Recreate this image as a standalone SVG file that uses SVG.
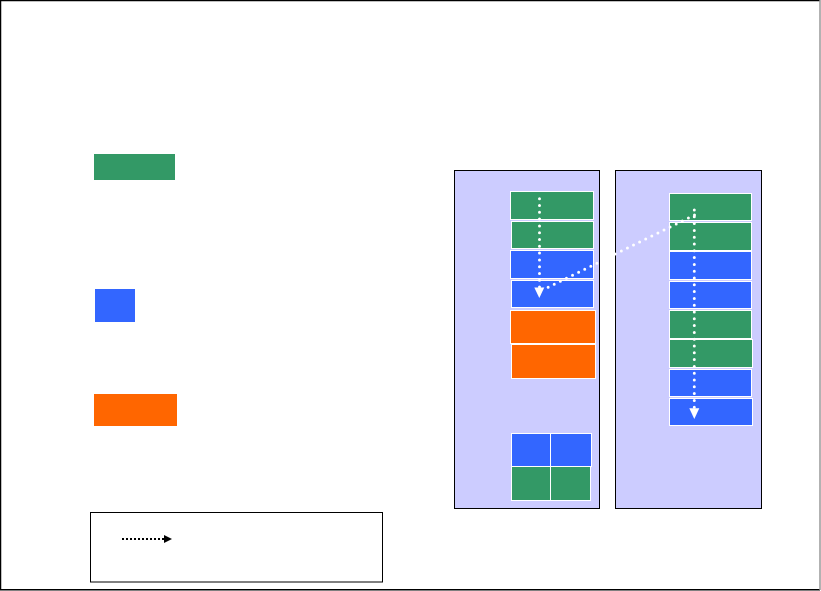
<svg xmlns="http://www.w3.org/2000/svg" width="821" height="591" viewBox="0 0 821 591">
<defs>
<style>
.g{fill:#339966;stroke:#fff;stroke-width:1}
.b{fill:#3366ff;stroke:#fff;stroke-width:1}
.o{fill:#ff6600;stroke:#fff;stroke-width:1}
.panel{fill:#ccccff;stroke:#000;stroke-width:1}
.wd{fill:none;stroke:#fff;stroke-width:3;stroke-linecap:round;stroke-dasharray:0 6.8}
.bd{fill:none;stroke:#000;stroke-width:2;stroke-dasharray:2 2}
</style>
<marker id="wa" markerWidth="10" markerHeight="10" refX="5" refY="9" orient="auto" markerUnits="userSpaceOnUse" viewBox="0 0 10 10">
<path d="M0,0 L10,0 L5,10 Z" fill="#fff"/>
</marker>
</defs>
<rect x="0" y="0" width="821" height="591" fill="#fff"/>
<path d="M0.5,590 L0.5,0.5 L820,0.5" fill="none" stroke="#000" stroke-width="1.5"/>
<path d="M0,589.8 L820,589.8" fill="none" stroke="#000" stroke-width="1.5"/>
<path d="M820,0 L820,590" fill="none" stroke="#999" stroke-width="1.5"/>

<g id="legend-green"><rect x="94" y="154" width="81" height="26" fill="#339966"/></g>
<g id="legend-blue"><rect x="95" y="289" width="40" height="33" fill="#3366ff"/></g>
<g id="legend-orange"><rect x="94" y="394" width="83" height="32" fill="#ff6600"/></g>
<g id="legend-box">
<rect x="90.5" y="512.5" width="292" height="69.5" fill="#fff" stroke="#000" stroke-width="1"/>
<line x1="122" y1="539" x2="165" y2="539" class="bd"/>
<path d="M164,535 L172,539 L164,543 Z" fill="#000"/>
</g>

<g id="panel-left">
<rect class="panel" x="454.5" y="170.5" width="145" height="338"/>
<rect class="g" x="510.5" y="191.5" width="83" height="28"/>
<rect class="g" x="511.5" y="221.5" width="82" height="27"/>
<rect class="b" x="510.5" y="250.5" width="83" height="28"/>
<rect class="b" x="511.5" y="280.5" width="82" height="27"/>
<rect class="o" x="510.5" y="310.5" width="85" height="33"/>
<rect class="o" x="511.5" y="344.5" width="84" height="34"/>
<rect class="b" x="511.5" y="433.5" width="39" height="33"/>
<rect class="b" x="550.5" y="433.5" width="41" height="33"/>
<rect class="g" x="511.5" y="466.5" width="39" height="34"/>
<rect class="g" x="550.5" y="466.5" width="40" height="34"/>
</g>

<g id="panel-right">
<rect class="panel" x="615.5" y="170.5" width="146" height="338"/>
<rect class="g" x="669.5" y="193.5" width="82" height="27"/>
<rect class="g" x="669.5" y="222.5" width="82" height="28"/>
<rect class="b" x="669.5" y="251.5" width="82" height="28"/>
<rect class="b" x="669.5" y="281.5" width="82" height="27"/>
<rect class="g" x="669.5" y="310.5" width="82" height="28"/>
<rect class="g" x="669.5" y="339.5" width="83" height="28"/>
<rect class="b" x="669.5" y="369.5" width="82" height="27"/>
<rect class="b" x="669.5" y="398.5" width="83" height="27"/>
</g>

<g id="connectors">
<line class="wd" x1="539.5" y1="198.7" x2="539.5" y2="288"/>
<path d="M534.3,287.5 L544.3,287.5 L539.3,298 Z" fill="#fff"/>
<line class="wd" x1="694.5" y1="215" x2="546.5" y2="288"/>
<line class="wd" x1="694.3" y1="210" x2="694.3" y2="408"/>
<path d="M689.3,408.3 L699.3,408.3 L694.3,419 Z" fill="#fff"/>
</g>
</svg>
